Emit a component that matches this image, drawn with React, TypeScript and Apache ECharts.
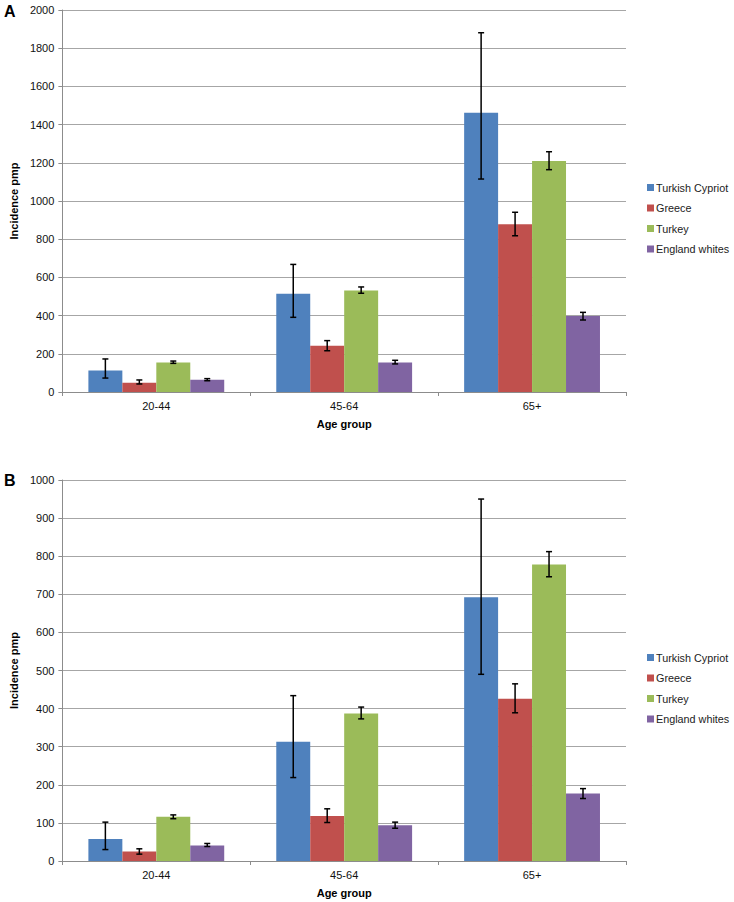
import React, { useEffect, useRef } from "react";
import * as echarts from "echarts";

const categories = ["20-44", "45-64", "65+"];
const seriesNames = ["Turkish Cypriot", "Greece", "Turkey", "England whites"];
const colors = ["#4F81BD", "#C0504D", "#9BBB59", "#8064A2"];

// Chart A
const aValues = [
  [112, 515, 1462],
  [49, 242, 878],
  [155, 532, 1209],
  [64, 155, 398],
];
const aLow = [
  [73, 391, 1115],
  [42, 216, 818],
  [150, 517, 1164],
  [59, 147, 377],
];
const aHigh = [
  [173, 668, 1881],
  [63, 269, 941],
  [162, 550, 1258],
  [70, 166, 417],
];

// Chart B
const bValues = [
  [58, 313, 692],
  [25, 118, 426],
  [116, 387, 778],
  [41, 94, 177],
];
const bLow = [
  [30, 219, 490],
  [18, 101, 389],
  [111, 373, 746],
  [38, 86, 164],
];
const bHigh = [
  [102, 434, 950],
  [32, 137, 465],
  [121, 404, 812],
  [46, 102, 190],
];

const aTicks = { min: 0, max: 2000, interval: 200 };
const bTicks = { min: 0, max: 1000, interval: 100 };

const FONT = "Liberation Sans, Arial, sans-serif";
const GAP = 0.277;

export default function App() {
  const ref = useRef<HTMLDivElement>(null);
  useEffect(() => {
    document.body.style.margin = "0";
    const chart = echarts.init(ref.current!, null, { renderer: "svg" });

    const xAxis = (gi: number) => ({
      type: "category",
      gridIndex: gi,
      data: categories,
      name: "Age group",
      nameLocation: "middle",
      nameGap: 26,
      nameTextStyle: { fontFamily: FONT, fontWeight: "bold", fontSize: 11, color: "#000" },
      axisLine: { lineStyle: { color: "#8c8c8c", width: 1 } },
      axisTick: { show: true, length: 4, lineStyle: { color: "#8c8c8c" } },
      axisLabel: { fontFamily: FONT, fontSize: 11, color: "#111", margin: 8 },
    });
    const yAxis = (gi: number, t: any) => ({
      type: "value",
      gridIndex: gi,
      min: t.min,
      max: t.max,
      interval: t.interval,
      name: "Incidence pmp",
      nameLocation: "middle",
      nameGap: 43,
      nameTextStyle: { fontFamily: FONT, fontWeight: "bold", fontSize: 11, color: "#000" },
      axisLine: { show: true, lineStyle: { color: "#8c8c8c", width: 1 } },
      axisTick: { show: true, length: 4, lineStyle: { color: "#8c8c8c" } },
      axisLabel: {
        fontFamily: FONT,
        fontSize: 11,
        color: "#111",
        margin: 8,
        formatter: (v: number) => String(v),
      },
      splitLine: { lineStyle: { color: "#a6a6a6", width: 1 } },
    });

    const bars = (gi: number, vals: number[][]) =>
      seriesNames.map((n, s) => ({
        type: "bar",
        name: n,
        xAxisIndex: gi,
        yAxisIndex: gi,
        data: vals[s],
        barGap: "0%",
        barCategoryGap: GAP * 100 + "%",
        itemStyle: { color: colors[s] },
      }));

    const errSeries = (gi: number, lo: number[][], hi: number[][]) => {
      const data: number[][] = [];
      seriesNames.forEach((_, s) => {
        categories.forEach((_, c) => {
          data.push([c, lo[s][c], hi[s][c], s]);
        });
      });
      return {
        type: "custom",
        xAxisIndex: gi,
        yAxisIndex: gi,
        z: 10,
        data,
        encode: { x: 0, y: [1, 2] },
        renderItem: (params: any, api: any) => {
          const c = api.value(0);
          const l = api.value(1);
          const h = api.value(2);
          const s = api.value(3);
          const catW = api.size([1, 0])[0];
          const bw = (catW * (1 - GAP)) / 4;
          const pLo = api.coord([c, l]);
          const pHi = api.coord([c, h]);
          const x = pLo[0] + (s - 1.5) * bw;
          const st = { stroke: "#000", lineWidth: 1.5 };
          const cap = 3;
          return {
            type: "group",
            children: [
              { type: "line", shape: { x1: x, y1: pLo[1], x2: x, y2: pHi[1] }, style: st },
              { type: "line", shape: { x1: x - cap, y1: pLo[1], x2: x + cap, y2: pLo[1] }, style: st },
              { type: "line", shape: { x1: x - cap, y1: pHi[1], x2: x + cap, y2: pHi[1] }, style: st },
            ],
          };
        },
      };
    };

    const legend = (top: number) => ({
      orient: "vertical",
      left: 642,
      top,
      itemWidth: 7,
      itemHeight: 7,
      itemGap: 9.5,
      icon: "rect",
      textStyle: { fontFamily: FONT, fontSize: 10.8, color: "#222", padding: [0, 0, 0, -3] },
      data: seriesNames.map((n, i) => ({ name: n, itemStyle: { color: colors[i] } })),
    });

    chart.setOption({
      animation: false,
      backgroundColor: "#fff",
      grid: [
        { left: 62, top: 10, width: 564, height: 382 },
        { left: 62, top: 480, width: 564, height: 381 },
      ],
      xAxis: [xAxis(0), xAxis(1)],
      yAxis: [yAxis(0, aTicks), yAxis(1, bTicks)],
      legend: [legend(177), legend(647)],
      graphic: [
        { type: "text", left: 4, top: 3, style: { text: "A", font: "bold 16px " + FONT, fill: "#000" } },
        { type: "text", left: 4, top: 472, style: { text: "B", font: "bold 16px " + FONT, fill: "#000" } },
      ],
      series: [
        ...bars(0, aValues),
        ...bars(1, bValues),
        errSeries(0, aLow, aHigh),
        errSeries(1, bLow, bHigh),
      ],
    });
    return () => chart.dispose();
  }, []);
  return <div ref={ref} style={{ width: 734, height: 902 }} />;
}
